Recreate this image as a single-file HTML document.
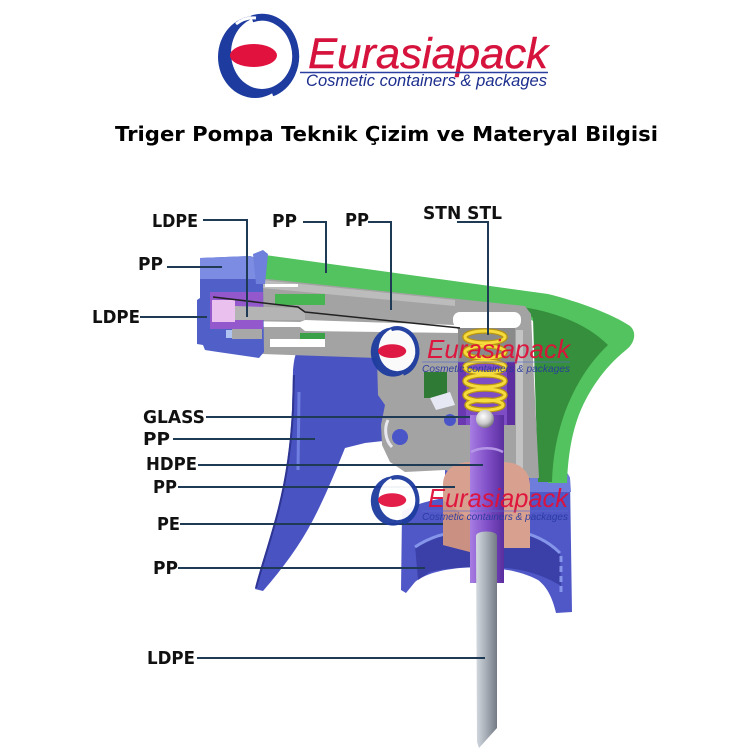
<!DOCTYPE html>
<html><head><meta charset="utf-8"><title>Triger Pompa Teknik Çizim</title>
<style>html,body{margin:0;padding:0;background:#fff;width:750px;height:750px;overflow:hidden}svg{display:block}</style>
</head><body>
<svg xmlns="http://www.w3.org/2000/svg" width="750" height="750" viewBox="0 0 750 750">
<defs>
 <linearGradient id="gTube" x1="0" x2="1" y1="0" y2="0">
  <stop offset="0" stop-color="#d4dae0"/><stop offset="0.45" stop-color="#aab1b9"/><stop offset="1" stop-color="#737a84"/>
 </linearGradient>
 <linearGradient id="gRod" x1="0" x2="1" y1="0" y2="0">
  <stop offset="0" stop-color="#a77de2"/><stop offset="0.5" stop-color="#8150c8"/><stop offset="1" stop-color="#5a2e9e"/>
 </linearGradient>
 <radialGradient id="gBall" cx="0.4" cy="0.35" r="0.7">
  <stop offset="0" stop-color="#ffffff"/><stop offset="0.6" stop-color="#c8c8cc"/><stop offset="1" stop-color="#6a6a70"/>
 </radialGradient>
</defs>
<rect width="750" height="750" fill="#fff"/>

<!-- Header logo emblem -->
<g>
 <ellipse cx="255" cy="57" rx="37" ry="41" fill="#1e3c9f"/>
 <ellipse cx="262" cy="53" rx="31" ry="36" fill="#fff"/>
 <path d="M252,19 A33,38 0 0 1 272,93" fill="none" stroke="#1e3c9f" stroke-width="7"/>
 <path d="M236,24 A30,34 0 0 1 256,18" fill="none" stroke="#fff" stroke-width="3"/>
 <ellipse cx="253.5" cy="55.5" rx="23.5" ry="11.5" fill="#e2123f"/>
</g>
<text x="308" y="68" font-family="Liberation Sans, sans-serif" font-style="italic" font-size="43" fill="#d6133d" stroke="#d6133d" stroke-width="0.4" textLength="240" lengthAdjust="spacingAndGlyphs">Eurasiapack</text>
<line x1="300" y1="72.5" x2="548" y2="72.5" stroke="#2a3f9f" stroke-width="1.5"/>
<text x="306" y="86" font-family="Liberation Sans, sans-serif" font-style="italic" font-size="16.5" fill="#1d2e8e" textLength="241" lengthAdjust="spacingAndGlyphs">Cosmetic containers &amp; packages</text>

<!-- Title -->
<text x="115" y="141" font-family="DejaVu Sans, Verdana, sans-serif" font-weight="bold" font-size="20" fill="#000" textLength="543" lengthAdjust="spacingAndGlyphs">Triger Pompa Teknik Çizim ve Materyal Bilgisi</text>

<!-- ===== PUMP DRAWING ===== -->
<!-- Closure (blue cap) -->
<path d="M402,512 C410,506 430,500 445,498 L445,470 L540,462 C555,462 566,468 570,478 L572,612 L556,613 C552,596 546,586 538,580 C515,568 485,566 460,568 C440,570 425,574 415,582 L406,593 L401,590 Z" fill="#5058c8"/>
<path d="M530,463 C552,462 566,468 570,478 L571,492 L530,492 Z" fill="#6e7ddc"/>
<path d="M415,546 C430,536 450,531 470,530 L515,530 C535,533 550,541 560,553 L561,586 C548,578 530,570 505,568 C480,566 450,567 430,572 L418,580 Z" fill="#3b40a8"/>
<path d="M415,547 C430,537 448,532 465,531" fill="none" stroke="#8595ea" stroke-width="3"/>
<path d="M515,531 C535,534 550,543 560,553" fill="none" stroke="#8595ea" stroke-width="3"/>
<line x1="561" y1="556" x2="561" y2="595" stroke="#8595ea" stroke-width="3" stroke-dasharray="6 4"/>

<!-- Green shroud -->
<path d="M258,257 L265,255 L548,294 C580,302 612,314 630,326 C637,332 635,343 626,350 C606,366 590,388 580,412 C572,432 568,455 567,483 L548,483 L546,330 L520,312 L258,285 Z" fill="#52c35e"/>
<path d="M522,307 C550,311 585,322 608,345 C590,362 575,385 565,412 C557,435 553,455 552,482 L538,482 L533,318 Z" fill="#358f3c"/>

<!-- Trigger -->
<path d="M298,350 L392,350 L392,440 L365,443 L345,448 C336,470 326,495 313,520 C300,545 283,568 263,591 L255,589 C260,568 270,540 278,508 C285,480 290,450 292,410 L293,370 C294,360 295,354 298,350 Z" fill="#4a53c2"/>
<path d="M294,375 L293,410 C291,450 286,480 279,508 C271,540 261,568 256,588" fill="none" stroke="#2e3592" stroke-width="2"/>
<path d="M299,392 L298,470" fill="none" stroke="#6f7fe0" stroke-width="3"/>

<!-- Gray body -->
<path d="M258,278 L525,306 L531,314 L534,380 L539,478 L470,478 L445,470 L405,472 L390,462 L382,445 L381,425 L385,405 L378,395 L377,358 L262,354 Z" fill="#a3a3a3"/>
<path d="M262,280 L455,300 L455,306 L262,288 Z" fill="#bcbcbc"/>
<rect x="516" y="330" width="7" height="140" fill="#c4c4c4"/>
<rect x="453" y="312" width="68" height="16" rx="7" fill="#fff"/>
<rect x="265" y="284" width="33" height="3" fill="#fff"/>
<rect x="275" y="294" width="50" height="11" fill="#46b552"/>
<path d="M236,321 L300,322 L305,320 L455,325 L460,333 L305,331 L300,327 L236,327 Z" fill="#fff"/>
<rect x="270" y="339" width="55" height="8" fill="#fff"/>
<rect x="300" y="333" width="25" height="6" fill="#3aa048"/>
<rect x="424" y="372" width="23" height="26" fill="#2f7a35"/>
<path d="M430,398 L450,392 L455,405 L436,410 Z" fill="#e6e8f4"/>
<circle cx="400" cy="437" r="8" fill="#4a55c8"/>
<path d="M388,420 C384,428 385,440 392,447" fill="none" stroke="#e8e8f0" stroke-width="3"/>
<circle cx="450" cy="420" r="6" fill="#4a55c8"/>

<!-- spring chamber -->
<rect x="458" y="328" width="57" height="34" fill="#8a8a8a"/>
<rect x="458" y="362" width="57" height="63" fill="#7e4cc4"/>
<rect x="458" y="362" width="8" height="63" fill="#6a38b0"/>
<rect x="507" y="362" width="8" height="63" fill="#5d2ea0"/>

<!-- Pink PE collar -->
<path d="M443,545 L443,485 C443,470 455,462 470,462 L503,462 C518,462 530,470 530,485 L530,548 L503,548 L503,480 L470,480 L470,552 Z" fill="#d8a08e"/>
<path d="M443,500 L443,545 L470,552 L470,520 Z" fill="#c2877a" opacity="0.6"/>

<!-- Purple rod -->
<rect x="470" y="415" width="34" height="168" fill="url(#gRod)"/>
<path d="M471,452 C480,447 494,447 503,452" fill="none" stroke="#b596e6" stroke-width="2.5"/>

<!-- Spring -->
<g fill="none" stroke="#b89412" stroke-width="5.5">
 <ellipse cx="485" cy="337" rx="20" ry="6"/>
 <ellipse cx="485" cy="352" rx="20" ry="6"/>
 <ellipse cx="485" cy="367" rx="20" ry="6"/>
 <ellipse cx="485" cy="381" rx="20" ry="6"/>
 <ellipse cx="485" cy="395" rx="20" ry="6"/>
 <ellipse cx="485" cy="405" rx="18" ry="5"/>
</g>
<g fill="none" stroke="#f5dc3c" stroke-width="3">
 <ellipse cx="485" cy="337" rx="20" ry="6"/>
 <ellipse cx="485" cy="352" rx="20" ry="6"/>
 <ellipse cx="485" cy="367" rx="20" ry="6"/>
 <ellipse cx="485" cy="381" rx="20" ry="6"/>
 <ellipse cx="485" cy="395" rx="20" ry="6"/>
 <ellipse cx="485" cy="405" rx="18" ry="5"/>
</g>
<circle cx="485" cy="419" r="9" fill="url(#gBall)"/>

<!-- Dip tube -->
<path d="M476,536 C476,530 497,530 497,536 L497,728 L479,748 L477,742 Z" fill="url(#gTube)"/>

<!-- Nozzle cap -->
<path d="M200,258 L250,256 L256,258 L257,276 L263,280 L264,352 L259,358 L218,352 L205,350 L203,345 L197,344 L197,300 L200,298 Z" fill="#5060c8"/>
<path d="M200,258 L250,256 L256,258 L256,279 L200,279 Z" fill="#7b8ce2"/>
<path d="M253,254 L263,250 L268,254 L265,284 L256,284 Z" fill="#6e80dc"/>
<rect x="210" y="292" width="53" height="37" fill="#9258cc"/>
<rect x="212" y="300" width="23" height="22" fill="#e9c0ee"/>
<rect x="232" y="329" width="30" height="10" fill="#a8a8a8"/>
<rect x="226" y="330" width="6" height="8" fill="#b0c4f2"/>
<path d="M235,306 L298,308 L305,313 L305,320 L235,320 Z" fill="#b4b4b4"/>
<path d="M213,297 L298,307 L305,312 L460,328" fill="none" stroke="#222" stroke-width="1.5"/>

<!-- ===== Leader lines ===== -->
<g fill="none" stroke="#1f3a55" stroke-width="2">
 <path d="M203,220 H247 V317"/>
 <path d="M303,222 H326 V273"/>
 <path d="M368,222 H391 V310"/>
 <path d="M457,222 H488 V335"/>
 <path d="M167,267 H222"/>
 <path d="M140,317 H207"/>
 <path d="M206,417 H470"/>
 <path d="M173,439 H315"/>
 <path d="M198,465 H483"/>
 <path d="M178,487 H455"/>
 <path d="M180,524 H443"/>
 <path d="M178,568 H425"/>
 <path d="M197,658 H485"/>
</g>

<!-- ===== Labels ===== -->
<g font-family="DejaVu Sans, Verdana, sans-serif" font-weight="bold" font-size="17.5" fill="#111">
 <text x="152" y="227" textLength="46" lengthAdjust="spacingAndGlyphs">LDPE</text>
 <text x="272" y="227" textLength="25" lengthAdjust="spacingAndGlyphs">PP</text>
 <text x="345" y="226" textLength="24" lengthAdjust="spacingAndGlyphs">PP</text>
 <text x="423" y="219" textLength="79" lengthAdjust="spacingAndGlyphs">STN STL</text>
 <text x="138" y="270" textLength="25" lengthAdjust="spacingAndGlyphs">PP</text>
 <text x="92" y="323" textLength="48" lengthAdjust="spacingAndGlyphs">LDPE</text>
 <text x="143" y="423" textLength="62" lengthAdjust="spacingAndGlyphs">GLASS</text>
 <text x="143" y="445" textLength="27" lengthAdjust="spacingAndGlyphs">PP</text>
 <text x="146" y="470" textLength="51" lengthAdjust="spacingAndGlyphs">HDPE</text>
 <text x="153" y="493" textLength="24" lengthAdjust="spacingAndGlyphs">PP</text>
 <text x="157" y="530" textLength="23" lengthAdjust="spacingAndGlyphs">PE</text>
 <text x="153" y="574" textLength="25" lengthAdjust="spacingAndGlyphs">PP</text>
 <text x="147" y="664" textLength="48" lengthAdjust="spacingAndGlyphs">LDPE</text>
</g>

<!-- ===== Watermarks ===== -->
<g opacity="0.95">
 <g transform="translate(393,352) scale(0.6) translate(-255,-57)">
  <ellipse cx="255" cy="57" rx="37" ry="41" fill="#1e3c9f"/>
  <ellipse cx="262" cy="53" rx="31" ry="36" fill="#fff"/>
  <path d="M252,19 A33,38 0 0 1 272,93" fill="none" stroke="#1e3c9f" stroke-width="7"/>
  <ellipse cx="253.5" cy="55.5" rx="23.5" ry="11.5" fill="#e2123f"/>
 </g>
 <text x="427" y="358" font-family="Liberation Sans, sans-serif" font-style="italic" font-size="26" fill="#e0103a" textLength="143" lengthAdjust="spacingAndGlyphs">Eurasiapack</text>
 <line x1="422" y1="362" x2="570" y2="362" stroke="#5a6ad0" stroke-width="1" opacity="0.7"/>
 <text x="422" y="372" font-family="Liberation Sans, sans-serif" font-style="italic" font-size="10.5" fill="#2a3aa0" textLength="148" lengthAdjust="spacingAndGlyphs">Cosmetic containers &amp; packages</text>
</g>
<g opacity="0.95">
 <g transform="translate(393,501) scale(0.6) translate(-255,-57)">
  <ellipse cx="255" cy="57" rx="37" ry="41" fill="#1e3c9f"/>
  <ellipse cx="262" cy="53" rx="31" ry="36" fill="#fff"/>
  <path d="M252,19 A33,38 0 0 1 272,93" fill="none" stroke="#1e3c9f" stroke-width="7"/>
  <ellipse cx="253.5" cy="55.5" rx="23.5" ry="11.5" fill="#e2123f"/>
 </g>
 <text x="428" y="507" font-family="Liberation Sans, sans-serif" font-style="italic" font-size="26" fill="#e0103a" textLength="140" lengthAdjust="spacingAndGlyphs">Eurasiapack</text>
 <line x1="422" y1="511" x2="568" y2="511" stroke="#5a6ad0" stroke-width="1" opacity="0.7"/>
 <text x="422" y="520" font-family="Liberation Sans, sans-serif" font-style="italic" font-size="10.5" fill="#2a3aa0" textLength="146" lengthAdjust="spacingAndGlyphs">Cosmetic containers &amp; packages</text>
</g>
</svg>
</body></html>
